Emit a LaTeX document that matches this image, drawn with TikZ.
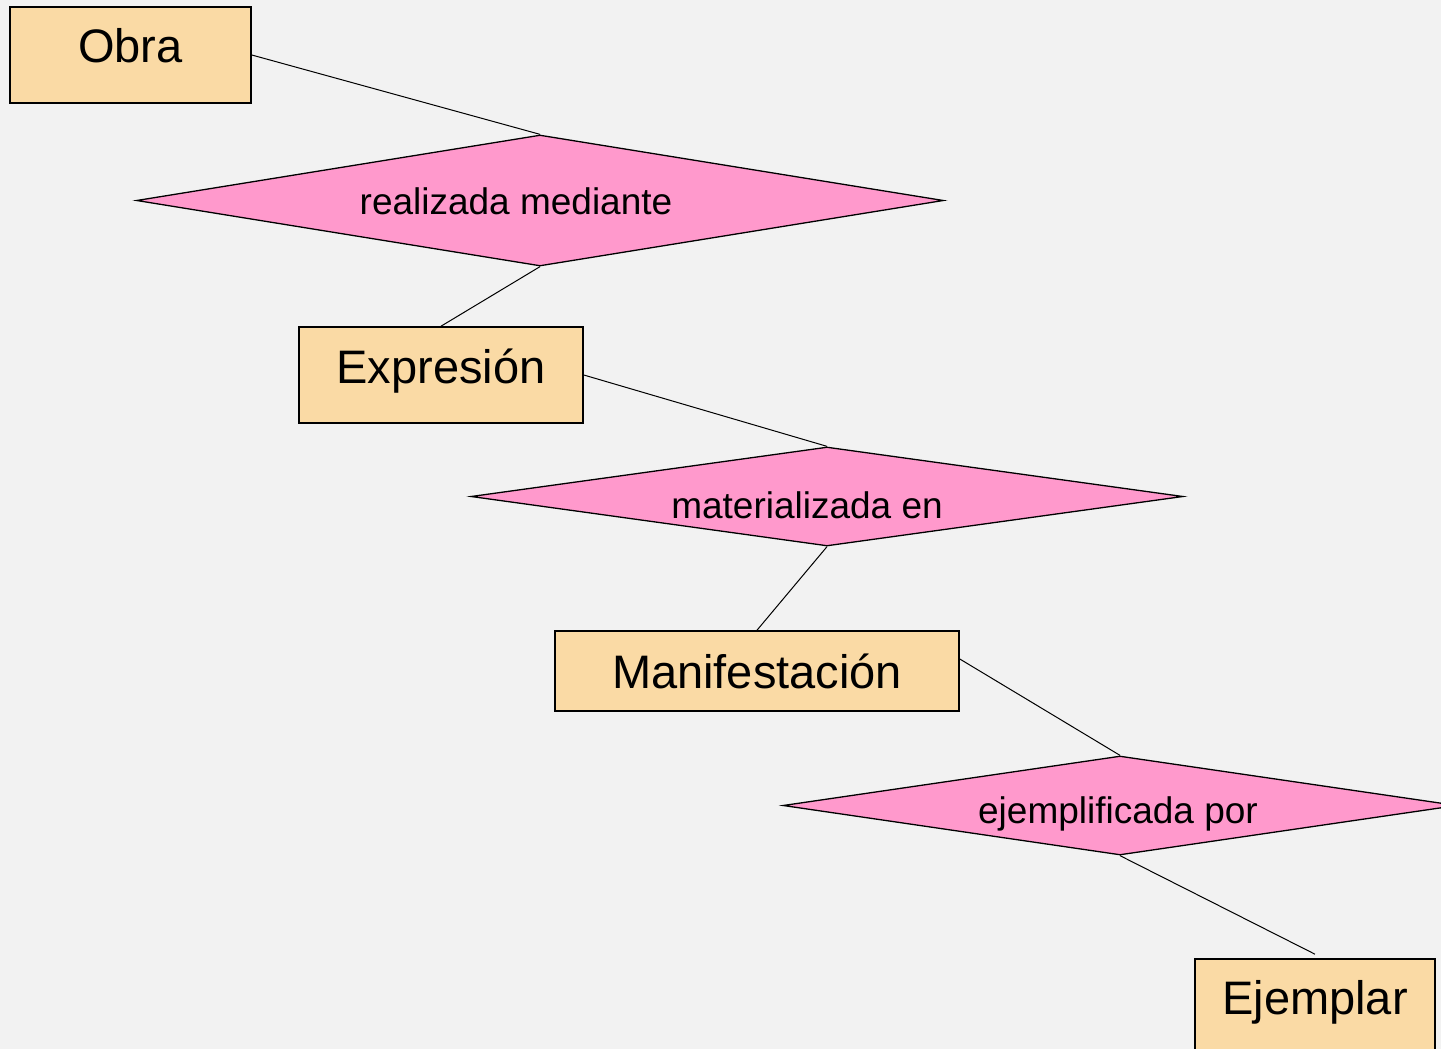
\documentclass[tikz,border=0pt]{standalone}
\usepackage{fontspec}
\setmainfont{Liberation Sans}
\usetikzlibrary{shapes.geometric}
\definecolor{bg}{HTML}{F2F2F2}
\definecolor{entfill}{HTML}{FADAA5}
\definecolor{relfill}{HTML}{FF99CC}
\tikzset{
  entity/.style={draw=black, line width=1.6pt, fill=entfill, rectangle, inner sep=0pt},
  relation/.style={draw=black, line width=1.3pt, fill=relfill, shape=diamond, inner sep=0pt},
  entlbl/.style={font=\fontsize{47}{56}\selectfont, text=black, inner sep=0pt},
  rellbl/.style={font=\fontsize{37}{44}\selectfont, text=black, inner sep=0pt},
  conn/.style={draw=black, line width=1pt}
}
\begin{document}
\begin{tikzpicture}[x=1pt,y=-1pt]
\clip (0,0) rectangle (1441,1049);
\fill[bg] (0,0) rectangle (1441,1049);

\node[entity, minimum width=241pt, minimum height=96pt,
  label={[entlbl, yshift=9pt]center:Obra}] (obra) at (130.5,55) {};
\node[relation, minimum width=807pt, minimum height=131pt,
  label={[rellbl, xshift=-24pt, yshift=-1pt]center:realizada mediante}] (r1) at (540,200.5) {};
\node[entity, minimum width=284pt, minimum height=96pt,
  label={[entlbl, yshift=4pt]center:Expresión}] (expr) at (441,375) {};
\node[relation, minimum width=712pt, minimum height=99pt,
  label={[rellbl, xshift=-20pt, yshift=-9pt]center:materializada en}] (r2) at (827,496.5) {};
\node[entity, minimum width=404pt, minimum height=80pt,
  label={[entlbl, yshift=0pt]center:Manifestación}] (mani) at (757,671) {};
\node[relation, minimum width=674pt, minimum height=99pt,
  label={[rellbl, xshift=-2pt, yshift=-8pt]center:ejemplificada por}] (r3) at (1120,805.5) {};
\node[entity, minimum width=240pt, minimum height=96pt,
  label={[entlbl, yshift=5pt]center:Ejemplar}] (ejem) at (1315,1007) {};

\draw[conn] (obra.east) -- (r1.north);
\draw[conn] (r1.south) -- (expr.north);
\draw[conn] (expr.east) -- (r2.north);
\draw[conn] (r2.south) -- (mani.north);
\draw[conn] ([yshift=12pt]mani.east) -- (r3.north);
\draw[conn] (r3.south) -- ([yshift=4pt]ejem.north);
\end{tikzpicture}
\end{document}
